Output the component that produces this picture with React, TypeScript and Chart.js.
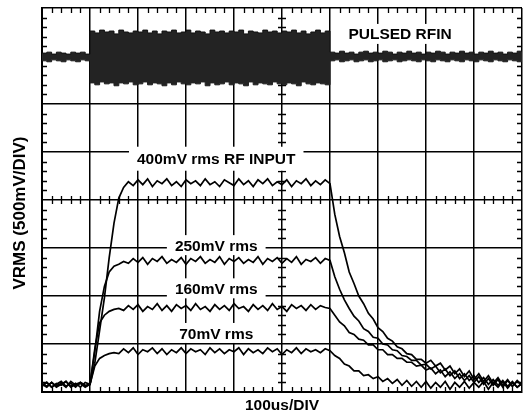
import React, { useEffect, useRef } from "react";
import { Chart, registerables } from "chart.js";

Chart.register(...registerables);

// time axis samples (us)
const TIME = [
  0, 10, 20, 30, 40, 50, 60, 70, 80, 90,
  100, 110, 120, 130, 140, 150, 160, 170, 180, 190,
  200, 210, 220, 230, 240, 250, 260, 270, 280, 290,
  300, 310, 320, 330, 340, 350, 360, 370, 380, 390,
  400, 410, 420, 430, 440, 450, 460, 470, 480, 490,
  500, 510, 520, 530, 540, 550, 560, 570, 580, 590,
  600, 610, 620, 630, 640, 650, 660, 670, 680, 690,
  700, 710, 720, 730, 740, 750, 760, 770, 780, 790,
  800, 810, 820, 830, 840, 850, 860, 870, 880, 890,
  900, 910, 920, 930, 940, 950, 960, 970, 980, 990,
  1000,
];

// pulsed RF input envelope (V on screen)
const RF_HI = [
  3.53, 3.54, 3.52, 3.54, 3.53, 3.52, 3.54, 3.53, 3.54, 3.52,
  3.76, 3.74, 3.77, 3.75, 3.76, 3.73, 3.77, 3.75, 3.74, 3.76,
  3.75, 3.77, 3.74, 3.76, 3.73, 3.76, 3.75, 3.77, 3.74, 3.75,
  3.77, 3.74, 3.76, 3.75, 3.73, 3.77, 3.75, 3.76, 3.74, 3.76,
  3.75, 3.77, 3.73, 3.76, 3.75, 3.74, 3.77, 3.75, 3.76, 3.74,
  3.76, 3.75, 3.77, 3.74, 3.76, 3.73, 3.75, 3.77, 3.74, 3.76,
  3.54, 3.53, 3.55, 3.53, 3.54, 3.52, 3.54, 3.55, 3.53, 3.54,
  3.53, 3.55, 3.54, 3.52, 3.54, 3.53, 3.55, 3.53, 3.54, 3.52,
  3.54, 3.53, 3.55, 3.54, 3.52, 3.54, 3.53, 3.55, 3.53, 3.54,
  3.52, 3.54, 3.53, 3.55, 3.53, 3.54, 3.52, 3.54, 3.53, 3.55,
  3.54,
];
const RF_LO = [
  3.45, 3.44, 3.46, 3.45, 3.44, 3.46, 3.45, 3.44, 3.46, 3.45,
  3.22, 3.20, 3.23, 3.21, 3.22, 3.19, 3.22, 3.21, 3.23, 3.20,
  3.21, 3.23, 3.20, 3.22, 3.21, 3.19, 3.22, 3.20, 3.23, 3.21,
  3.20, 3.22, 3.21, 3.23, 3.19, 3.22, 3.20, 3.21, 3.23, 3.20,
  3.22, 3.21, 3.19, 3.23, 3.20, 3.22, 3.21, 3.20, 3.23, 3.21,
  3.20, 3.22, 3.21, 3.19, 3.23, 3.21, 3.20, 3.22, 3.21, 3.20,
  3.45, 3.46, 3.44, 3.45, 3.46, 3.44, 3.45, 3.46, 3.44, 3.45,
  3.46, 3.44, 3.45, 3.46, 3.44, 3.45, 3.46, 3.45, 3.44, 3.46,
  3.45, 3.44, 3.46, 3.45, 3.44, 3.46, 3.45, 3.44, 3.46, 3.45,
  3.44, 3.46, 3.45, 3.44, 3.46, 3.45, 3.44, 3.46, 3.45, 3.44,
  3.45,
];

// detector outputs (V on screen)
const OUT_400 = [
  0.06, 0.10, 0.05, 0.09, 0.07, 0.11, 0.05, 0.08, 0.10, 0.06,
  0.08, 0.30, 0.64, 0.98, 1.40, 1.76, 2.02, 2.13, 2.19, 2.15,
  2.21, 2.16, 2.22, 2.14, 2.20, 2.17, 2.22, 2.15, 2.19, 2.14,
  2.21, 2.17, 2.20, 2.15, 2.22, 2.16, 2.19, 2.14, 2.21, 2.18,
  2.15, 2.22, 2.16, 2.20, 2.14, 2.21, 2.17, 2.22, 2.15, 2.19,
  2.16, 2.21, 2.14, 2.20, 2.17, 2.22, 2.15, 2.20, 2.16, 2.21,
  2.17, 1.85, 1.62, 1.45, 1.25, 1.13, 1.00, 0.92, 0.82, 0.76,
  0.67, 0.63, 0.56, 0.53, 0.47, 0.45, 0.40, 0.39, 0.34, 0.34,
  0.30, 0.33, 0.27, 0.30, 0.23, 0.27, 0.19, 0.24, 0.16, 0.22,
  0.13, 0.19, 0.11, 0.17, 0.09, 0.15, 0.07, 0.13, 0.06, 0.12,
  0.07,
];
const OUT_250 = [
  0.08, 0.05, 0.10, 0.06, 0.09, 0.05, 0.11, 0.07, 0.09, 0.05,
  0.08, 0.42, 0.84, 1.10, 1.25, 1.31, 1.33, 1.36, 1.34, 1.39,
  1.35, 1.40, 1.33, 1.39, 1.36, 1.41, 1.34, 1.38, 1.35, 1.40,
  1.33, 1.39, 1.36, 1.41, 1.34, 1.38, 1.35, 1.41, 1.33, 1.39,
  1.36, 1.40, 1.34, 1.38, 1.35, 1.41, 1.33, 1.39, 1.36, 1.40,
  1.34, 1.39, 1.35, 1.41, 1.33, 1.38, 1.36, 1.40, 1.34, 1.39,
  1.37, 1.20, 1.07, 0.96, 0.87, 0.79, 0.74, 0.66, 0.63, 0.57,
  0.56, 0.50, 0.49, 0.44, 0.43, 0.38, 0.37, 0.33, 0.33, 0.28,
  0.29, 0.24, 0.27, 0.20, 0.24, 0.17, 0.22, 0.14, 0.19, 0.12,
  0.17, 0.10, 0.15, 0.08, 0.13, 0.07, 0.12, 0.06, 0.11, 0.05,
  0.09,
];
const OUT_160 = [
  0.07, 0.10, 0.05, 0.08, 0.11, 0.06, 0.09, 0.05, 0.10, 0.07,
  0.08, 0.45, 0.72, 0.80, 0.84, 0.86, 0.87, 0.85, 0.90, 0.86,
  0.91, 0.84, 0.89, 0.86, 0.92, 0.85, 0.90, 0.84, 0.91, 0.87,
  0.90, 0.85, 0.92, 0.86, 0.89, 0.84, 0.91, 0.86, 0.90, 0.85,
  0.92, 0.87, 0.89, 0.84, 0.91, 0.86, 0.90, 0.85, 0.92, 0.86,
  0.89, 0.84, 0.91, 0.87, 0.90, 0.85, 0.91, 0.86, 0.90, 0.88,
  0.87, 0.80, 0.73, 0.69, 0.62, 0.60, 0.55, 0.54, 0.49, 0.49,
  0.44, 0.44, 0.39, 0.39, 0.35, 0.35, 0.31, 0.31, 0.27, 0.28,
  0.23, 0.25, 0.19, 0.23, 0.16, 0.21, 0.14, 0.19, 0.12, 0.17,
  0.10, 0.16, 0.08, 0.14, 0.07, 0.13, 0.05, 0.12, 0.06, 0.11,
  0.07,
];
const OUT_70 = [
  0.09, 0.06, 0.10, 0.05, 0.08, 0.11, 0.06, 0.09, 0.05, 0.10,
  0.08, 0.27, 0.35, 0.38, 0.40, 0.41, 0.40, 0.45, 0.41, 0.46,
  0.39, 0.44, 0.42, 0.46, 0.40, 0.45, 0.39, 0.44, 0.41, 0.46,
  0.40, 0.45, 0.42, 0.44, 0.39, 0.46, 0.41, 0.45, 0.40, 0.44,
  0.42, 0.46, 0.39, 0.45, 0.41, 0.44, 0.40, 0.46, 0.42, 0.45,
  0.39, 0.44, 0.41, 0.46, 0.40, 0.45, 0.42, 0.44, 0.41, 0.45,
  0.43, 0.38, 0.35, 0.29, 0.27, 0.22, 0.22, 0.17, 0.18, 0.14,
  0.16, 0.11, 0.14, 0.09, 0.13, 0.07, 0.12, 0.06, 0.11, 0.05,
  0.11, 0.04, 0.10, 0.05, 0.11, 0.03, 0.10, 0.05, 0.11, 0.04,
  0.10, 0.05, 0.11, 0.03, 0.10, 0.05, 0.11, 0.04, 0.10, 0.05,
  0.09,
];

// annotation texts and their anchor values (time us, volts)
const LABEL_TEXTS = ["PULSED RFIN", "400mV rms RF INPUT", "250mV rms", "160mV rms", "70mV rms"];
const LABEL_T = [746, 363, 363, 363, 363];
const LABEL_V = [3.73, 2.43, 1.53, 1.08, 0.615];

const X_TITLE = "100us/DIV";
const Y_TITLE = "VRMS (500mV/DIV)";

const FONT = '"Liberation Sans", Arial, Helvetica, sans-serif';
const LABEL_SIZE = 15.5;

const toXY = (arr: number[]) => TIME.map((t, i) => ({ x: t, y: arr[i] }));

const scopePlugin = {
  id: "scopeDecor",
  beforeDatasetsDraw(chart: any) {
    const { ctx, chartArea: a, scales } = chart;
    const xs = scales.x;
    const ys = scales.y;
    ctx.save();
    ctx.strokeStyle = "#000";
    ctx.lineWidth = 1.3;
    const cx = xs.getPixelForValue(500);
    const cy = ys.getPixelForValue(2);
    ctx.beginPath();
    for (let t = 20; t < 1000; t += 20) {
      if (t % 100 === 0) continue;
      const px = Math.round(xs.getPixelForValue(t)) + 0.5;
      ctx.moveTo(px, a.top);
      ctx.lineTo(px, a.top + 5);
      ctx.moveTo(px, a.bottom);
      ctx.lineTo(px, a.bottom - 5);
      ctx.moveTo(px, cy - 4);
      ctx.lineTo(px, cy + 4);
    }
    for (let k = 1; k < 40; k++) {
      if (k % 5 === 0) continue;
      const py = Math.round(ys.getPixelForValue(k * 0.1)) + 0.5;
      ctx.moveTo(a.left, py);
      ctx.lineTo(a.left + 5, py);
      ctx.moveTo(a.right, py);
      ctx.lineTo(a.right - 5, py);
      ctx.moveTo(cx - 4, py);
      ctx.lineTo(cx + 4, py);
    }
    ctx.stroke();

    // annotation labels with white backgrounds
    ctx.font = `bold ${LABEL_SIZE}px ${FONT}`;
    ctx.textAlign = "center";
    ctx.textBaseline = "alphabetic";
    LABEL_TEXTS.forEach((txt, i) => {
      const px = xs.getPixelForValue(LABEL_T[i]);
      const py = ys.getPixelForValue(LABEL_V[i]);
      const w = ctx.measureText(txt).width;
      ctx.fillStyle = "#fff";
      const hh = i === 1 ? 12 : 10;
      ctx.fillRect(px - w / 2 - 8, py - hh, w + 16, hh * 2);
      ctx.fillStyle = "#000";
      ctx.fillText(txt, px, py + LABEL_SIZE * 0.358);
    });
    ctx.restore();
  },
  afterDraw(chart: any) {
    const { ctx, chartArea: a } = chart;
    ctx.save();
    ctx.fillStyle = "#000";
    ctx.font = `bold ${LABEL_SIZE}px ${FONT}`;
    ctx.textAlign = "center";
    ctx.textBaseline = "middle";
    ctx.fillText(X_TITLE, (a.left + a.right) / 2, a.bottom + 14);
    ctx.translate(20, (a.top + a.bottom) / 2 + 13);
    ctx.rotate(-Math.PI / 2);
    ctx.font = `bold 17px ${FONT}`;
    ctx.fillText(Y_TITLE, 0, 0);
    ctx.restore();
  },
};

export default function App() {
  const ref = useRef<HTMLCanvasElement | null>(null);
  useEffect(() => {
    if (!ref.current) return;
    const line = (arr: number[], extra: any = {}) => ({
      data: toXY(arr),
      borderColor: "#000",
      borderWidth: 1.7,
      pointRadius: 0,
      fill: false,
      tension: 0,
      ...extra,
    });
    const chart = new Chart(ref.current, {
      type: "line",
      data: {
        datasets: [
          line(RF_HI, {
            stepped: "before",
            borderWidth: 1,
            borderColor: "#111",
            fill: "+1",
            backgroundColor: "#232323",
          }),
          line(RF_LO, { stepped: "before", borderWidth: 1, borderColor: "#111" }),
          line(OUT_400),
          line(OUT_250),
          line(OUT_160),
          line(OUT_70),
        ],
      },
      plugins: [scopePlugin],
      options: {
        animation: false,
        responsive: true,
        maintainAspectRatio: false,
        layout: { padding: { left: 42, top: 8, right: 10, bottom: 24 } },
        plugins: { legend: { display: false }, tooltip: { enabled: false } },
        scales: {
          x: {
            type: "linear",
            min: 0,
            max: 1000,
            ticks: { display: false, stepSize: 100 },
            grid: { color: "#000", lineWidth: 1.5, drawTicks: false },
            border: { display: true, color: "#000", width: 2 },
          },
          y: {
            type: "linear",
            min: 0,
            max: 4,
            ticks: { display: false, stepSize: 0.5 },
            grid: { color: "#000", lineWidth: 1.5, drawTicks: false },
            border: { display: true, color: "#000", width: 2 },
          },
        },
      },
    });
    return () => chart.destroy();
  }, []);
  return (
    <div style={{ position: "fixed", left: 0, top: 0, width: 532, height: 416, background: "#fff" }}>
      <canvas ref={ref} />
    </div>
  );
}
